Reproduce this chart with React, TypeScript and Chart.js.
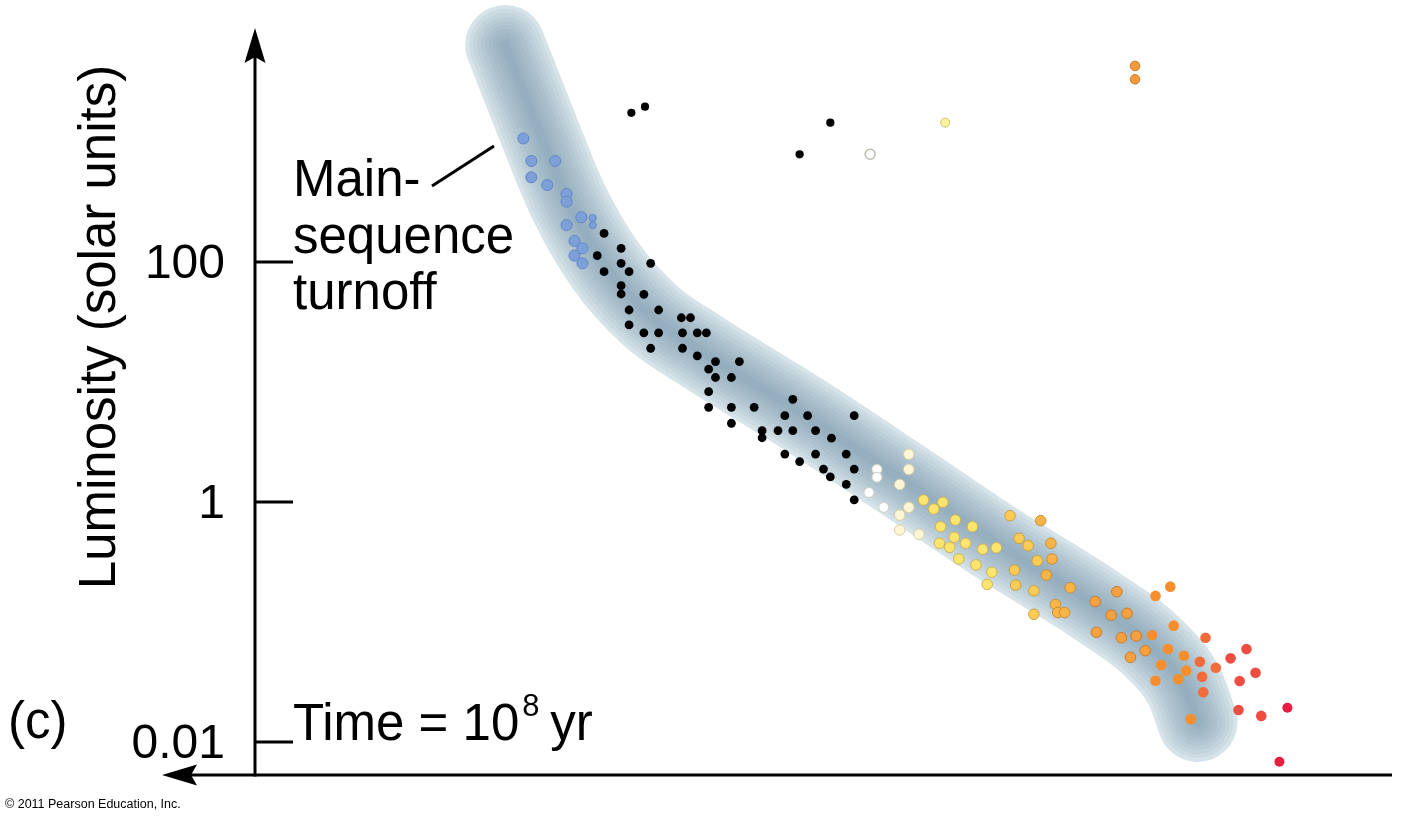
import React, { useEffect, useRef } from "react";
import { Chart, registerables } from "chart.js";

Chart.register(...registerables);

const FONT = '"Liberation Sans", Arial, Helvetica, sans-serif';

// x: relative position along the (unlabelled, reversed) temperature axis, 0..100
// y: luminosity in solar units (log scale)
type Pt = [number, number];

const bandCenterline: Pt[] = [
  [22.0, 6430], [24.6, 1525], [27.5, 328], [30.8, 94.4], [34.7, 36.2], [39.1, 18.5],
  [47.9, 5.62], [56.7, 1.585], [65.5, 0.438], [74.3, 0.131],
  [79.2, 0.0584], [81.8, 0.0282], [82.9, 0.0147],
];

const blueStars: Pt[] = [
  [23.6, 1070], [24.3, 695], [26.4, 695], [24.3, 508], [25.7, 438], [27.4, 369], [27.4, 318],
  [28.7, 236], [27.4, 203], [28.1, 150], [28.8, 130], [28.1, 113], [28.8, 97.5],
];
const blueSmallStars: Pt[] = [[29.7, 233], [29.7, 203]];

const blackStars: Pt[] = [
  [30.7, 173], [32.2, 130], [30.1, 113], [32.2, 97.5], [34.8, 97.5], [30.7, 83.0], [32.9, 83.0],
  [32.2, 63.5], [32.2, 54.1], [34.2, 53.8], [32.9, 39.8], [35.5, 39.8], [37.5, 34.3], [38.3, 34.3],
  [32.9, 29.9], [34.2, 25.7], [35.5, 25.7], [37.6, 25.7], [38.9, 25.7], [39.7, 25.7], [34.8, 19.1],
  [37.6, 19.1], [38.9, 16.5], [40.5, 14.8], [42.6, 14.8], [39.9, 12.8], [40.5, 10.9], [41.9, 10.9],
  [39.9, 8.3], [47.3, 7.17], [39.9, 6.15], [41.9, 6.15], [43.9, 6.15], [46.6, 5.24], [48.6, 5.24],
  [52.7, 5.24], [41.9, 4.53], [44.6, 3.93], [44.6, 3.43], [46.0, 3.93], [47.3, 3.93], [49.3, 3.93],
  [50.7, 3.4], [46.6, 2.51], [47.9, 2.17], [49.3, 2.51], [52.0, 2.51], [50.0, 1.88], [52.7, 1.88],
  [50.6, 1.62], [52.0, 1.4], [52.7, 1.04],
];
const blackGiants: Pt[] = [[33.1, 1750], [34.3, 1970], [47.9, 790], [50.6, 1450]];

const whiteStars: Pt[] = [[54.7, 1.87], [54.7, 1.61], [54.0, 1.2], [55.3, 0.903]];
const whiteGiant: Pt[] = [[54.1, 790]];
const creamStars: Pt[] = [
  [57.5, 2.5], [57.5, 1.87], [56.7, 1.4], [57.5, 0.903], [56.7, 0.779], [56.7, 0.585], [58.4, 0.538],
];
const yellowStars: Pt[] = [
  [58.8, 1.04], [59.7, 0.874], [60.5, 0.994], [61.6, 0.708], [60.3, 0.623], [63.1, 0.623],
  [61.5, 0.508], [60.2, 0.453], [61.1, 0.419], [62.5, 0.453], [64.0, 0.404], [65.2, 0.416],
  [61.9, 0.335], [63.4, 0.299], [64.8, 0.26], [64.4, 0.206],
];
const yellowGiant: Pt[] = [[60.7, 1450]];
const goldStars: Pt[] = [
  [66.4, 0.769], [67.2, 0.498], [68.0, 0.433], [68.8, 0.324], [66.8, 0.271], [66.9, 0.203],
  [68.5, 0.182], [68.5, 0.116],
];
const amberStars: Pt[] = [
  [69.1, 0.699], [70.0, 0.453], [70.1, 0.335], [69.6, 0.246], [71.7, 0.193], [70.4, 0.14],
  [70.6, 0.12], [71.2, 0.12],
];
const orangeStars: Pt[] = [
  [75.8, 0.179], [73.9, 0.148], [75.3, 0.114], [76.7, 0.118], [74.0, 0.0821], [76.2, 0.074],
  [77.5, 0.0764], [78.3, 0.0577], [77.0, 0.0508],
];
const orangeGiants: Pt[] = [[77.4, 4300], [77.4, 3330]];
const brightOrangeStars: Pt[] = [
  [79.2, 0.165], [80.5, 0.197], [80.8, 0.0932], [78.9, 0.078], [80.3, 0.0596], [81.7, 0.0524],
  [79.7, 0.0438], [81.9, 0.0393], [79.2, 0.0324], [81.2, 0.0335], [82.3, 0.0155],
];
const redOrangeStars: Pt[] = [[83.6, 0.074], [83.1, 0.0467], [83.3, 0.035], [83.4, 0.026], [84.5, 0.0416]];
const redStars: Pt[] = [[85.8, 0.0498], [87.2, 0.0596], [86.6, 0.0322], [88.0, 0.0378], [86.5, 0.0185], [88.5, 0.0165]];
const crimsonStars: Pt[] = [[90.8, 0.0193], [90.1, 0.00685]];

const yTickValues = [0.01, 1, 100];
const yTickLabels = ["0.01", "1", "100"];

const yAxisTitle = "Luminosity (solar units)";
const turnoffLabel = ["Main-", "sequence", "turnoff"];
const timeLabel = "Time = 10";
const timeExponent = "8";
const timeUnit = "yr";
const panelLabel = "(c)";
const copyright = "\u00A9 2011 Pearson Education, Inc.";

const X_MIN = 0;
const X_MAX = 100;
const Y_MIN = Math.pow(10, -2.275);
const Y_MAX = Math.pow(10, 3.9333);

const toXY = (pts: Pt[]) => pts.map(([x, y]) => ({ x, y }));

function starSet(pts: Pt[], fill: string, border: string, radius: number, borderWidth: number) {
  return {
    type: "scatter" as const,
    data: toXY(pts),
    backgroundColor: fill,
    borderColor: border,
    pointRadius: radius,
    pointBorderWidth: borderWidth,
    pointHoverRadius: radius,
    showLine: false,
    clip: false as const,
    order: 0,
  };
}

const bandLayers = [
  { width: 80, color: "rgb(214,227,233)" },
  { width: 72, color: "rgba(105,140,160,0.085)" },
  { width: 64, color: "rgba(105,140,160,0.085)" },
  { width: 56, color: "rgba(105,140,160,0.085)" },
  { width: 48, color: "rgba(105,140,160,0.085)" },
  { width: 40, color: "rgba(105,140,160,0.085)" },
  { width: 32, color: "rgba(105,140,160,0.085)" },
  { width: 24, color: "rgba(105,140,160,0.085)" },
  { width: 16, color: "rgba(105,140,160,0.085)" },
  { width: 9, color: "rgba(105,140,160,0.085)" },
];

function drawArrowHead(ctx: CanvasRenderingContext2D, tipX: number, tipY: number, dir: "up" | "left") {
  const len = 35;
  const half = 10.5;
  const notch = 6;
  ctx.beginPath();
  if (dir === "up") {
    ctx.moveTo(tipX, tipY);
    ctx.lineTo(tipX + half, tipY + len);
    ctx.lineTo(tipX, tipY + len - notch);
    ctx.lineTo(tipX - half, tipY + len);
  } else {
    ctx.moveTo(tipX, tipY);
    ctx.lineTo(tipX + len, tipY - half);
    ctx.lineTo(tipX + len - notch, tipY);
    ctx.lineTo(tipX + len, tipY + half);
  }
  ctx.closePath();
  ctx.fill();
}

const decorations = {
  id: "hrDecorations",
  afterDraw(chart: any) {
    const { ctx, chartArea, scales } = chart;
    const yScale = scales.y;
    const left = chartArea.left;
    const bottom = chartArea.bottom;
    ctx.save();
    ctx.strokeStyle = "#000";
    ctx.fillStyle = "#000";
    ctx.lineWidth = 3;
    ctx.lineCap = "butt";

    // vertical axis
    ctx.beginPath();
    ctx.moveTo(left, bottom + 1.5);
    ctx.lineTo(left, chartArea.top + 20);
    ctx.stroke();
    drawArrowHead(ctx, left, chartArea.top - 2, "up");

    // horizontal axis
    ctx.beginPath();
    ctx.moveTo(chartArea.right, bottom);
    ctx.lineTo(left - 80, bottom);
    ctx.stroke();
    drawArrowHead(ctx, left - 93, bottom, "left");

    // ticks (inside) and labels (outside)
    ctx.font = `48px ${FONT}`;
    ctx.textAlign = "right";
    ctx.textBaseline = "alphabetic";
    yTickValues.forEach((v, i) => {
      const py = yScale.getPixelForValue(v);
      ctx.beginPath();
      ctx.moveTo(left, py);
      ctx.lineTo(left + 38, py);
      ctx.stroke();
      ctx.fillText(yTickLabels[i], left - 30, py + 16);
    });

    // axis title
    ctx.save();
    ctx.translate(115, 327);
    ctx.rotate(-Math.PI / 2);
    ctx.textAlign = "center";
    ctx.font = `51px ${FONT}`;
    ctx.fillText(yAxisTitle, 0, 0);
    ctx.restore();

    // turnoff annotation
    ctx.font = `51px ${FONT}`;
    ctx.textAlign = "left";
    const baselines = [196, 253, 309];
    turnoffLabel.forEach((t, i) => ctx.fillText(t, left + 38, baselines[i]));
    ctx.beginPath();
    ctx.moveTo(432, 186);
    ctx.lineTo(494, 146);
    ctx.stroke();

    // time label
    ctx.fillText(timeLabel, left + 38, 740);
    const w = ctx.measureText(timeLabel).width;
    ctx.font = `31px ${FONT}`;
    ctx.fillText(timeExponent, left + 38 + w + 3, 716);
    ctx.font = `51px ${FONT}`;
    ctx.fillText(timeUnit, left + 38 + w + 31, 740);

    // panel label
    ctx.fillText(panelLabel, 8, 738);

    // copyright
    ctx.font = `12.5px ${FONT}`;
    ctx.fillText(copyright, 5, 808);
    ctx.restore();
  },
};

export default function App() {
  const canvasRef = useRef<HTMLCanvasElement | null>(null);

  useEffect(() => {
    if (!canvasRef.current) return;
    const bandSets = bandLayers.map((layer, i) => ({
      type: "line" as const,
      data: toXY(bandCenterline),
      showLine: true,
      borderColor: layer.color,
      borderWidth: layer.width,
      borderCapStyle: "round" as const,
      borderJoinStyle: "round" as const,
      cubicInterpolationMode: "monotone" as const,
      pointRadius: 0,
      pointHoverRadius: 0,
      fill: false,
      clip: false as const,
      order: 100 - i,
    }));

    const chart = new Chart(canvasRef.current, {
      type: "scatter",
      data: {
        datasets: [
          ...bandSets,
          starSet(blueStars, "#7ea0d8", "#5f86c6", 5.5, 1),
          starSet(blueSmallStars, "#7ea0d8", "#5f86c6", 3.5, 1),
          starSet(blackStars, "#000000", "#000000", 4.4, 0),
          starSet(blackGiants, "#000000", "#000000", 4.1, 0),
          starSet(whiteStars, "#ffffff", "#d0cec0", 5, 1),
          starSet(whiteGiant, "#ffffff", "#bdbcb2", 5, 1.5),
          starSet(creamStars, "#fdf5d6", "#d6cda4", 5.3, 1),
          starSet(yellowStars, "#fde46c", "#cdb256", 5.3, 1),
          starSet(yellowGiant, "#fbf39a", "#c8c070", 4.5, 1),
          starSet(goldStars, "#fccb55", "#c9a043", 5.3, 1),
          starSet(amberStars, "#f8b447", "#c68e38", 5.3, 1),
          starSet(orangeStars, "#f6a03e", "#c47b30", 5.3, 1),
          starSet(orangeGiants, "#f39a3a", "#c8782c", 4.8, 1),
          starSet(brightOrangeStars, "#f78e2c", "#f78e2c", 5.3, 0),
          starSet(redOrangeStars, "#f26b3b", "#f26b3b", 5.3, 0),
          starSet(redStars, "#ee4e42", "#ee4e42", 5.3, 0),
          starSet(crimsonStars, "#e61f40", "#e61f40", 5, 0),
        ] as any,
      },
      options: {
        responsive: false,
        maintainAspectRatio: false,
        animation: false,
        events: [],
        layout: { padding: { left: 255, right: 10, top: 30, bottom: 46 } },
        plugins: { legend: { display: false }, tooltip: { enabled: false } },
        scales: {
          x: { type: "linear", min: X_MIN, max: X_MAX, display: false },
          y: { type: "logarithmic", min: Y_MIN, max: Y_MAX, display: false },
        },
      },
      plugins: [decorations],
    });
    return () => chart.destroy();
  }, []);

  return (
    <div style={{ position: "fixed", left: 0, top: 0, width: 1402, height: 821, background: "#ffffff" }}>
      <canvas ref={canvasRef} width={1402} height={821} style={{ display: "block", width: 1402, height: 821 }} />
    </div>
  );
}
